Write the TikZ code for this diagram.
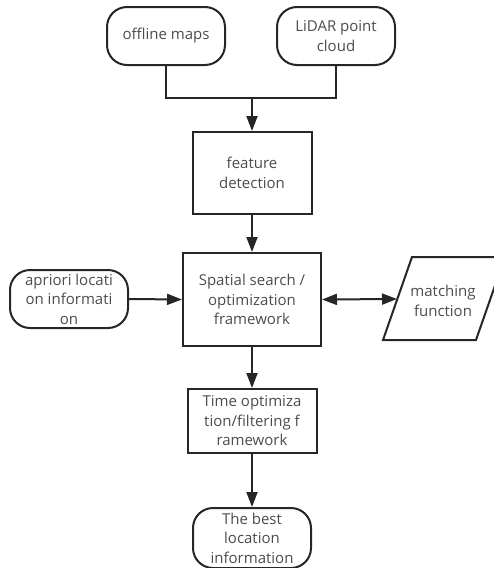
\documentclass[tikz,border=0pt]{standalone}
\usepackage{fontspec}
\setmainfont{Open Sans}
\usetikzlibrary{arrows.meta,positioning}

\begin{document}
\begin{tikzpicture}[x=1pt,y=-1pt,font=\fontsize{15}{19.5}\selectfont,
  term/.style={draw=black!85,line width=2pt,rounded corners=20pt,align=center,text=black!70,minimum width=118pt,minimum height=58pt,inner sep=2pt},
  proc/.style={draw=black!85,line width=2pt,align=center,text=black!70,inner sep=2pt},
  io/.style={align=center,text=black!70,inner sep=0pt},
  arr/.style={-{Triangle[length=15pt,width=11pt]},line width=2pt,draw=black!85},
  dbl/.style={{Triangle[length=15pt,width=11pt]}-{Triangle[length=15pt,width=11pt]},line width=2pt,draw=black!85},
  ln/.style={line width=2pt,draw=black!85}]
 \useasboundingbox (0,0) rectangle (493,568);
 % ---- inputs ----
 \node[term] (maps) at (166,36) {offline maps};
 \node[term] (lidar) at (336,36) {LiDAR point\\cloud};
 \coordinate (join) at (252,98);
 % ---- spine ----
 \node[proc,minimum width=119pt,minimum height=82pt] (feat) at (252,173) {feature\\detection};
 \node[proc,minimum width=138pt,minimum height=93pt] (search) at (252,299.5) {Spatial search /\\optimization\\framework};
 \node[term] (prior) at (69,299) {apriori locati\\on informati\\on};
 \node[io] (match) at (443,301) {matching\\function};
 \draw[ln] (383,340) -- (412,257) -- (505,257) -- (476,340) -- cycle;
 \coordinate (matchin) at (397,299);
 \node[proc,minimum width=129pt,minimum height=64pt] (time) at (252,421) {Time optimiza\\tion/filtering f\\ramework};
 \node[term,minimum height=60pt] (best) at (252,538) {The best\\location\\information};
 % ---- connectors ----
 \draw[ln] (maps.south) |- (join) -| (lidar.south);
 \draw[arr] (join) -- (feat.north);
 \draw[arr] (feat.south) -- (search.north);
 \draw[arr] (prior.east) -- (search.west);
 \draw[dbl] (search.east) -- (matchin);
 \draw[arr] (search.south) -- (time.north);
 \draw[arr] (time.south) -- (best.north);
\end{tikzpicture}
\end{document}
